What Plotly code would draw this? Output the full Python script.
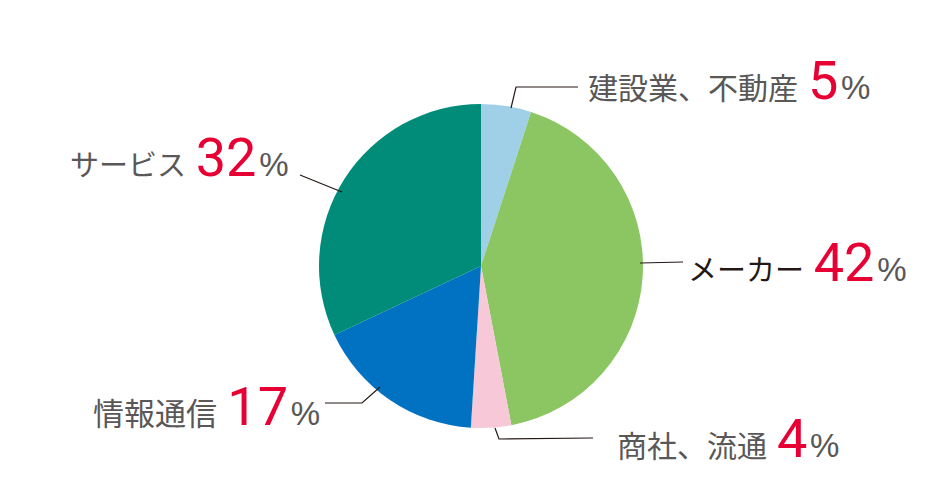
import plotly.graph_objects as go

# industry shares (%)
labels = ["建設業、不動産", "メーカー", "商社、流通", "情報通信", "サービス"]
values = [5, 42, 4, 17, 32]
colors = ["#a0d0e8", "#8bc663", "#f6c8d8", "#0072c1", "#008c78"]
name_colors = ["#595757", "#231815", "#595757", "#595757", "#595757"]
name_sizes = [30, 29, 30, 31, 29]

W, H = 948, 495
OFF = 8  # page body margin


def px(x):
    return (x - OFF) / W


def py(y):
    return 1 - (y - OFF) / H


# pie centre / radius in pixels
cx, cy, r = 481, 266, 162

fig = go.Figure(go.Pie(
    labels=labels,
    values=values,
    sort=False,
    direction="clockwise",
    rotation=0,
    marker=dict(colors=colors, line=dict(width=0)),
    textinfo="none",
    hoverinfo="label+percent",
    showlegend=False,
    domain=dict(x=[px(cx - r), px(cx + r)], y=[py(cy + r), py(cy - r)]),
))

# label placement (left edge x, middle y) and leader lines
label_pos = [(586, 80), (686, 262), (615, 438), (91, 406), (68, 158)]
leaders = [
    [(511, 108), (516, 87), (578, 87)],
    [(640, 263), (683, 262)],
    [(495, 428), (499, 439), (593, 438)],
    [(380, 387), (362, 403), (325, 403)],
    [(342, 192), (300, 175)],
]

num_font = "Liberation Sans Narrow, Roboto, Arial"
pct_font = "Liberation Sans, Arial"
jp_font = "Noto Sans CJK JP"

annotations = []
for lab, val, col, size, (x, y) in zip(labels, values, name_colors, name_sizes, label_pos):
    txt = (f"<span style='color:{col}'>{lab}</span>&#8196;"
           f"<span style='font-size:54px;color:#e60033;font-family:{num_font}'>{val}</span>"
           f"<span style='font-size:33px;color:#595757;font-family:{pct_font}'>&#8202;%</span>")
    annotations.append(dict(
        x=px(x), y=py(y), xref="paper", yref="paper",
        xanchor="left", yanchor="middle", showarrow=False,
        text=txt, font=dict(family=jp_font, size=size, color=col),
    ))

shapes = []
for pts in leaders:
    path = "M " + " L ".join(f"{px(a)},{py(b)}" for a, b in pts)
    shapes.append(dict(type="path", xref="paper", yref="paper", path=path,
                       line=dict(color="#231815", width=1.2)))

fig.update_layout(
    width=W, height=H,
    margin=dict(l=0, r=0, t=0, b=0),
    paper_bgcolor="white",
    plot_bgcolor="white",
    annotations=annotations,
    shapes=shapes,
)

fig.write_html("out.html")
